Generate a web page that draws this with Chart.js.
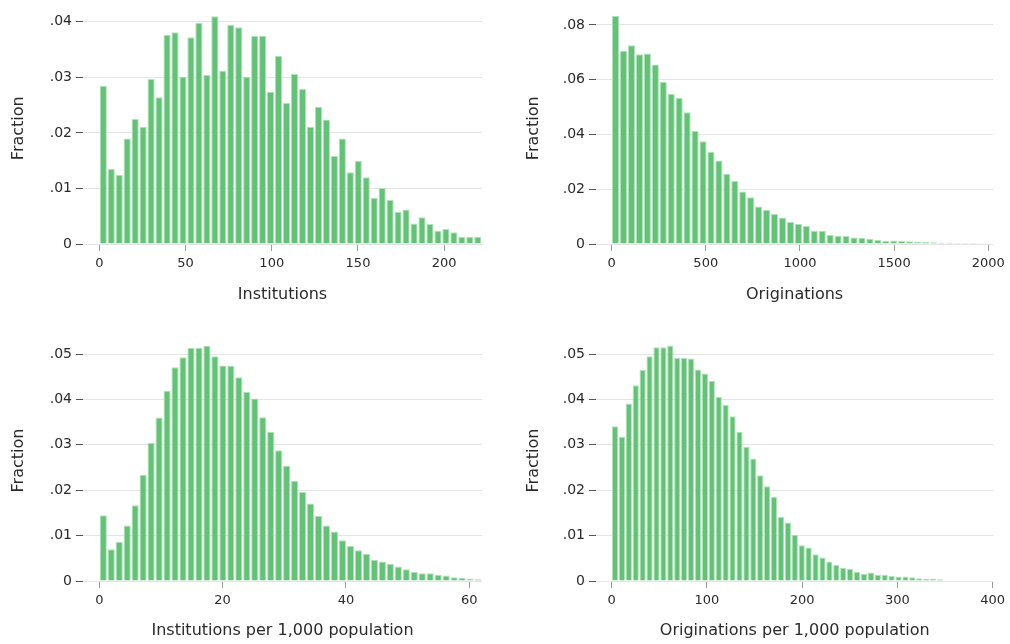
<!DOCTYPE html>
<html><head><meta charset="utf-8">
<script src="https://cdn.jsdelivr.net/npm/chart.js@4/dist/chart.umd.min.js"></script>
<style>
html,body{margin:0;padding:0;background:#fff;width:1010px;height:644px;overflow:hidden}
.p{position:absolute;width:505px;height:322px}
</style></head><body>
<div class="p" style="left:0;top:0"><canvas id="c1" width="505" height="322"></canvas></div>
<div class="p" style="left:505px;top:0"><canvas id="c2" width="505" height="322"></canvas></div>
<div class="p" style="left:0;top:322px"><canvas id="c3" width="505" height="322"></canvas></div>
<div class="p" style="left:505px;top:322px"><canvas id="c4" width="505" height="322"></canvas></div>
<script>
// ---- Data (fraction per bin, 48 bins each) ----
const institutionsValues = [0.0285,0.0135,0.0124,0.0190,0.0225,0.0211,0.0297,0.0264,0.0376,0.0381,0.0301,0.0372,0.0398,0.0304,0.0410,0.0312,0.0394,0.0390,0.0301,0.0375,0.0375,0.0274,0.0339,0.0254,0.0306,0.0279,0.0211,0.0247,0.0224,0.0159,0.0190,0.0129,0.0150,0.0120,0.0083,0.0101,0.0079,0.0058,0.0062,0.0037,0.0048,0.0036,0.0024,0.0027,0.0021,0.0013,0.0013,0.0013];
const originationsValues = [0.0834,0.0705,0.0726,0.0693,0.0696,0.0656,0.0593,0.0548,0.0534,0.0481,0.0414,0.0375,0.0337,0.0305,0.0257,0.0230,0.0192,0.0171,0.0137,0.0124,0.0110,0.0097,0.0080,0.0074,0.0066,0.0048,0.0048,0.0034,0.0030,0.0029,0.0024,0.0023,0.0018,0.0015,0.0012,0.0013,0.0011,0.0010,0.0008,0.0007,0.0006,0.0005,0.0005,0.0004,0.0004,0.0004,0.0003,0.0003];
const instPerPopValues = [0.0145,0.0070,0.0086,0.0122,0.0167,0.0234,0.0304,0.0360,0.0419,0.0471,0.0493,0.0514,0.0514,0.0518,0.0495,0.0475,0.0474,0.0449,0.0417,0.0402,0.0361,0.0329,0.0288,0.0254,0.0221,0.0196,0.0171,0.0144,0.0122,0.0109,0.0090,0.0077,0.0068,0.0060,0.0047,0.0043,0.0038,0.0032,0.0026,0.0020,0.0017,0.0017,0.0014,0.0012,0.0008,0.0007,0.0005,0.0004];
const origPerPopValues = [0.0341,0.0318,0.0391,0.0431,0.0465,0.0495,0.0515,0.0515,0.0519,0.0491,0.0491,0.0490,0.0466,0.0457,0.0441,0.0406,0.0388,0.0363,0.0329,0.0296,0.0270,0.0233,0.0209,0.0185,0.0141,0.0129,0.0102,0.0079,0.0074,0.0059,0.0052,0.0043,0.0035,0.0029,0.0027,0.0020,0.0016,0.0019,0.0014,0.0014,0.0011,0.0010,0.0010,0.0008,0.0006,0.0005,0.0005,0.0004];

// bin widths (x units)
const institutionsBinWidth = 4.62;
const originationsBinWidth = 42.2;
const instPerPopBinWidth = 1.293;
const origPerPopBinWidth = 7.26;

// tick values and labels
const institutionsXTicks = [0,50,100,150,200];
const originationsXTicks = [0,500,1000,1500,2000];
const instPerPopXTicks = [0,20,40,60];
const origPerPopXTicks = [0,100,200,300,400];
const yTicksTop1 = [0,0.01,0.02,0.03,0.04];
const yLabelsTop1 = ['0','.01','.02','.03','.04'];
const yTicksTop2 = [0,0.02,0.04,0.06,0.08];
const yLabelsTop2 = ['0','.02','.04','.06','.08'];
const yTicksBottom = [0,0.01,0.02,0.03,0.04,0.05];
const yLabelsBottom = ['0','.01','.02','.03','.04','.05'];

const xTitles = ['Institutions','Originations','Institutions per 1,000 population','Originations per 1,000 population'];
const yTitle = 'Fraction';

const FONT = 'DejaVu Sans';
const TXT = '#2a2a2a';

function makeChart(id, values, binW, xTicks, yTicks, yLabels, xTitle, geo) {
  const pts = values.map((v,i)=>({x:(i+0.5)*binW, y:v}));
  new Chart(document.getElementById(id), {
    type:'bar',
    data:{datasets:[{data:pts, backgroundColor:'#62c275', borderColor:'#b2e1bc', borderWidth:1, borderSkipped:'bottom', categoryPercentage:1, barPercentage:0.9}]},
    options:{
      responsive:false, animation:false,
      layout:{padding:{top:geo.top,right:geo.right,bottom:0,left:0}},
      plugins:{legend:{display:false},tooltip:{enabled:false}},
      scales:{
        x:{type:'linear', offset:false, min:geo.xmin, max:geo.xmax,
          afterBuildTicks:s=>{s.ticks=xTicks.map(v=>({value:v}));},
          afterFit:s=>{s.height=geo.xh;},
          grid:{display:true, offset:false, drawOnChartArea:false, drawTicks:true, tickLength:7, tickColor:'#9a9a9a', tickWidth:1},
          border:{display:false},
          ticks:{autoSkip:false, maxRotation:0, padding:5, color:TXT, font:{family:FONT,size:13}, callback:(v)=>String(v)},
          title:{display:true, text:xTitle, color:TXT, font:{family:FONT,size:16}, padding:{top:0,bottom:geo.xtp}}
        },
        y:{type:'linear', min:0, max:geo.ymax,
          afterBuildTicks:s=>{s.ticks=yTicks.map(v=>({value:v}));},
          afterFit:s=>{s.width=geo.left;},
          grid:{color:'#e4e4e4', lineWidth:1, drawTicks:true, tickLength:7, tickColor:'#555', tickWidth:1},
          border:{display:false},
          ticks:{padding:4, color:TXT, font:{family:FONT,size:14}, callback:(v,i)=>yLabels[i]},
          title:{display:true, text:yTitle, color:TXT, font:{family:FONT,size:16}, padding:{top:geo.ytp,bottom:0}}
        }
      }
    }
  });
}

makeChart('c1', institutionsValues, institutionsBinWidth, institutionsXTicks, yTicksTop1, yLabelsTop1, xTitles[0],
  {top:5,right:23,left:83,xh:78,xmin:-9.45,xmax:221.9,ymax:0.04169,xtp:18,ytp:9});
makeChart('c2', originationsValues, originationsBinWidth, originationsXTicks, yTicksTop2, yLabelsTop2, xTitles[1],
  {top:5,right:14,left:91,xh:78,xmin:-82.8,xmax:2026,ymax:0.08459,xtp:18,ytp:19});
makeChart('c3', instPerPopValues, instPerPopBinWidth, instPerPopXTicks, yTicksBottom, yLabelsBottom, xTitles[2],
  {top:18,right:23,left:83,xh:63,xmin:-2.64,xmax:62.06,ymax:0.05309,xtp:4,ytp:9});
makeChart('c4', origPerPopValues, origPerPopBinWidth, origPerPopXTicks, yTicksBottom, yLabelsBottom, xTitles[3],
  {top:18,right:14,left:91,xh:63,xmin:-16.3,xmax:401,ymax:0.05309,xtp:4,ytp:19});
</script>
</body></html>
